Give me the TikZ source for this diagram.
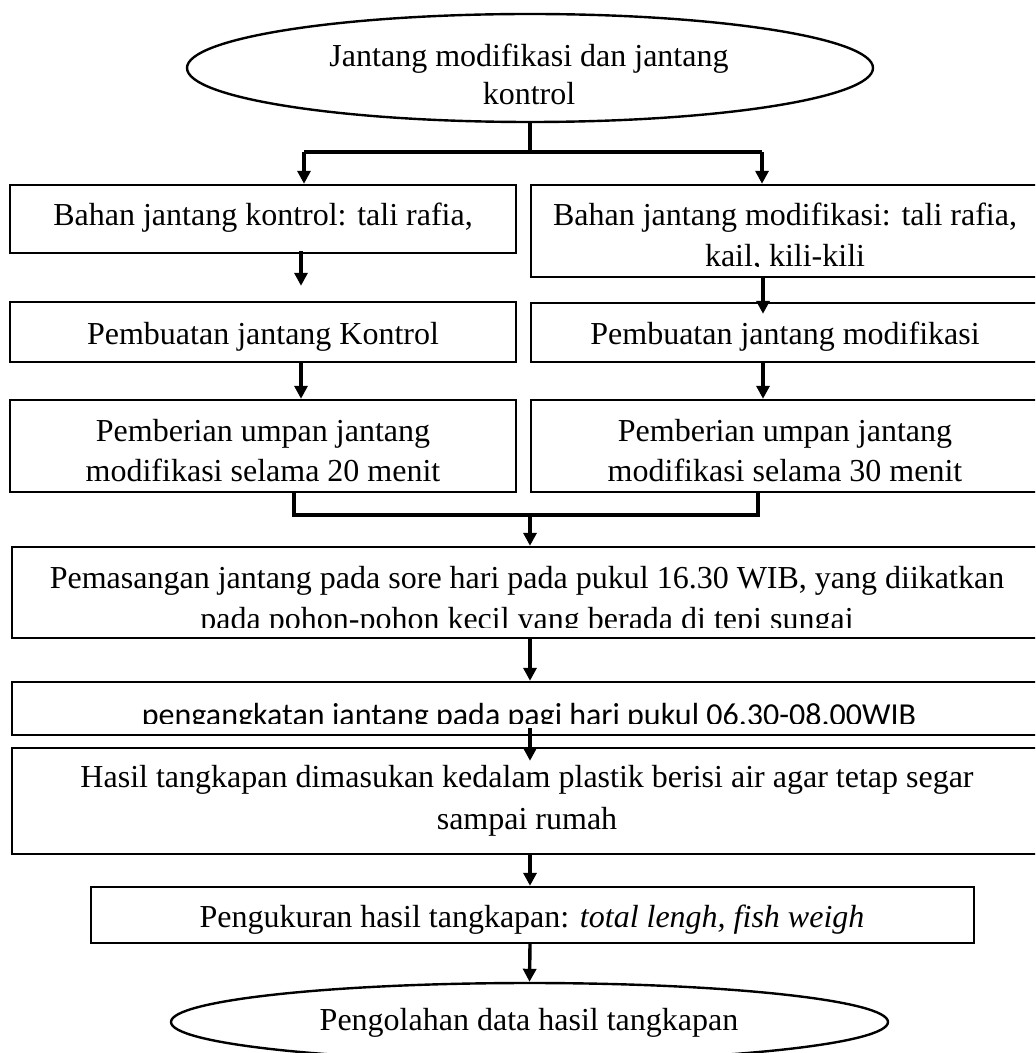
\documentclass[tikz,border=0pt]{standalone}
\usepackage{fontspec}
\setmainfont{Liberation Serif}
\newfontfamily\calfont{Carlito}
\usetikzlibrary{arrows.meta,shapes.geometric,fit}
\begin{document}
\begin{tikzpicture}[x=0.5pt,y=-0.5pt,
  box/.style={draw,line width=1.2pt,inner sep=0pt},
  oval/.style={draw,ellipse,line width=1.2pt,inner sep=0pt},
  conn/.style={line width=1.7pt},
  arr/.style={conn,-{Triangle[length=6.5pt,width=6.5pt]}},
  txt/.style={anchor=base,inner sep=0pt,font=\fontsize{16}{18}\selectfont},
]
\useasboundingbox (0,0) rectangle (1035,1053);
\begin{scope}
\clip (0,0) rectangle (1035,1053);

% shapes
\node[oval,minimum width=343pt,minimum height=54pt] (top) at (530,68) {};
\node[box,fit={(10,185) (516,253)}] (L1) {};
\node[box,fit={(531,185) (1040,277)}] (R1) {};
\node[box,fit={(10,302) (516,362)}] (L2) {};
\node[box,fit={(531,303) (1040,362)}] (R2) {};
\node[box,fit={(10,400) (516,492)}] (L3) {};
\node[box,fit={(531,400) (1040,492)}] (R3) {};
\node[box,fit={(12,547) (1045,638)}] (B1) {};
\node[box,fit={(12,682) (1045,735)}] (B2) {};
\node[box,fit={(12,748) (1045,854)}] (B3) {};
\node[box,fit={(91,887) (974,943)}] (B4) {};
\node[oval,minimum width=358.5pt,minimum height=39pt] (bot) at (529.5,1022) {};

% texts
\node[txt] (top-t1) at (529,67) {Jantang modifikasi dan jantang};
\begin{scope}
\clip (0,0) rectangle (1035,105);
\node[txt] (top-t2) at (529,104.5) {kontrol};
\end{scope}
\node[txt] (L1-t) at (263,226) {Bahan jantang kontrol: tali rafia,};
\node[txt] (R1-t1) at (785,226) {Bahan jantang modifikasi: tali rafia,};
\begin{scope}
\clip (531,230) rectangle (1035,267);
\node[txt] (R1-t2) at (785,267) {kail, kili-kili};
\end{scope}
\node[txt] (L2-t) at (263,344) {Pembuatan jantang Kontrol};
\node[txt] (R2-t) at (785,344) {Pembuatan jantang modifikasi};
\node[txt] (L3-t1) at (263,441) {Pemberian umpan jantang};
\node[txt] (L3-t2) at (263,481) {modifikasi selama 20 menit};
\node[txt] (R3-t1) at (785,441) {Pemberian umpan jantang};
\node[txt] (R3-t2) at (785,481) {modifikasi selama 30 menit};
\node[txt] (B1-t1) at (527,588) {Pemasangan jantang pada sore hari pada pukul 16.30 WIB, yang diikatkan};
\begin{scope}
\clip (12,592) rectangle (1035,627);
\node[txt] (B1-t2) at (527,629) {pada pohon-pohon kecil yang berada di tepi sungai};
\end{scope}
\begin{scope}
\clip (12,683) rectangle (1035,723.5);
\node[txt,font=\fontsize{16}{18}\calfont] (B2-t) at (529,725) {pengangkatan jantang pada pagi hari pukul 06.30-08.00WIB};
\end{scope}
\node[txt] (B3-t1) at (527,787) {Hasil tangkapan dimasukan kedalam plastik berisi air agar tetap segar};
\node[txt] (B3-t2) at (527,829) {sampai rumah};
\node[txt] (B4-t) at (532,927) {Pengukuran hasil tangkapan: \textit{total lengh, fish weigh}};
\node[txt] (bot-t) at (529,1030) {Pengolahan data hasil tangkapan};

% guide coordinates
\coordinate (xl) at (301,0);
\coordinate (xr) at (763,0);
\coordinate (xm) at (530,0);
\coordinate (jl) at (304,152);
\coordinate (jr) at (762,152);
\coordinate (jm) at (530,152);
\coordinate (ml) at (294,0);
\coordinate (mr) at (758,0);
\coordinate (mj) at (530,515);

% connectors
\draw[conn] (top.south) -- (jm);
\draw[conn] (jl) -- (jr);
\draw[arr] (jl) -- (jl |- L1.north);
\draw[arr] (jr) -- (jr |- R1.north);
\draw[arr] ([yshift=1.5pt]L1.south -| xl) -- ([yshift=7.5pt]L2.north -| xl);
\draw[arr] (L2.south -| xl) -- (L3.north -| xl);
\draw[arr] (R1.south -| xr) -- ([yshift=-6pt]R2.north -| xr);
\draw[arr] (R2.south -| xr) -- (R3.north -| xr);
\draw[conn] (L3.south -| ml) |- (mj) -| (R3.south -| mr);
\draw[arr] (mj) -- (B1.north -| xm);
\draw[arr] (B1.south -| xm) -- (B2.north -| xm);
\draw[arr] ([yshift=4pt]B2.south -| xm) -- ([yshift=-7pt]B3.north -| xm);
\draw[arr] (B3.south -| xm) -- (B4.north -| xm);
\draw[arr] (B4.south -| xm) -- (bot.north);
\end{scope}
\end{tikzpicture}
\end{document}
